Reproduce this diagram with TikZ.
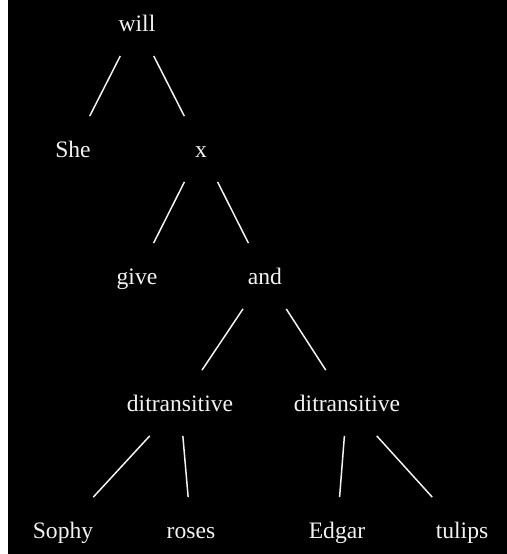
\documentclass[tikz,border=0pt]{standalone}
\usepackage{fontspec}
\setmainfont{Liberation Serif}
\usetikzlibrary{positioning}
\definecolor{treeFondo}{HTML}{000000}
\definecolor{treeTinta}{HTML}{F2F2F2}

\begin{document}
\begin{tikzpicture}[
        x=0.5pt, y=-0.5pt,
        word/.style={anchor=base, inner sep=0pt, text=treeTinta, font=\fontsize{11.8pt}{14pt}\selectfont,
                     text height=20.25pt, text depth=12.25pt, minimum width=35pt},
        edge/.style={draw=treeTinta, line width=0.75pt}
    ]

    % Fondo
    \useasboundingbox (0,0) rectangle (507,554);
    \fill[white] (0,0) rectangle (8.5,554);
    \fill[treeFondo] (8.5,0) rectangle (507,554);

    % Nivel 1
    \node[word] (will) at (137, 31) {will};

    % Nivel 2
    \node[word] (she) at (73, 157) {She};
    \node[word] (x) at (201, 157) {x};

    % Nivel 3
    \node[word] (give) at (137, 284) {give};
    \node[word] (and) at (265, 284) {and};

    % Nivel 4
    \node[word] (ditL) at (180, 411) {ditransitive};
    \node[word] (ditR) at (347, 411) {ditransitive};

    % Nivel 5
    \node[word] (sophy) at (63, 538) {Sophy};
    \node[word] (roses) at (191, 538) {roses};
    \node[word] (edgar) at (337, 538) {Edgar};
    \node[word] (tulips) at (462, 538) {tulips};

    % Ramas
    \draw[edge] (will) -- (she);
    \draw[edge] (will) -- (x);
    \draw[edge] (x) -- (give);
    \draw[edge] (x) -- (and);
    \draw[edge] (and) -- (ditL);
    \draw[edge] (and) -- (ditR);
    \draw[edge] (ditL) -- (sophy);
    \draw[edge] (ditL) -- (roses);
    \draw[edge] (ditR) -- (edgar);
    \draw[edge] (ditR) -- (tulips);

\end{tikzpicture}
\end{document}
